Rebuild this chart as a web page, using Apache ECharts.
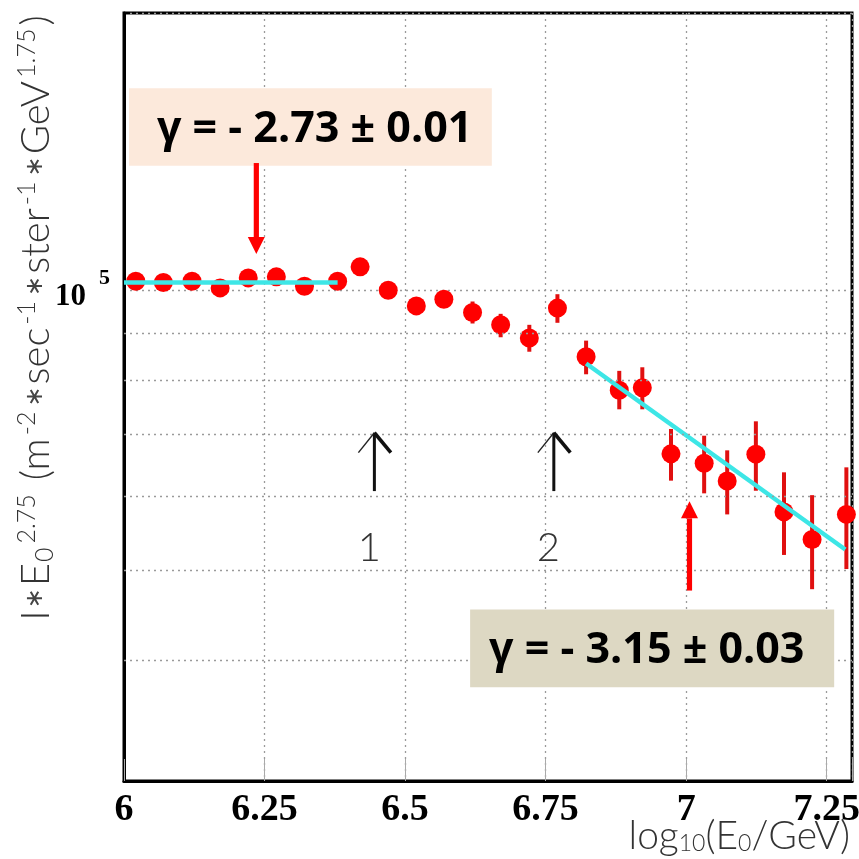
<!DOCTYPE html>
<html><head><meta charset="utf-8">
<script src="https://cdn.jsdelivr.net/npm/echarts/dist/echarts.min.js"></script>
<style>html,body{margin:0;padding:0;background:#fff}#c{width:859px;height:859px}</style>
</head><body><div id="c"></div>
<script>
// ---- data ----
const logE = [6.021, 6.070, 6.121, 6.171, 6.221, 6.271, 6.321, 6.380, 6.420, 6.470,
              6.520, 6.569, 6.620, 6.670, 6.721, 6.771, 6.822, 6.881, 6.922, 6.973,
              7.032, 7.073, 7.124, 7.174, 7.224, 7.285];
const flux = [1.0225e5, 1.0192e5, 1.0225e5, 1.0057e5, 1.0309e5, 1.0335e5, 1.0099e5, 1.0225e5, 1.0594e5, 1.0000e5,
              9.619e4, 9.780e4, 9.463e4, 9.181e4, 8.886e4, 9.566e4, 8.482e4, 7.807e4, 7.857e4, 6.671e4,
              6.518e4, 6.237e4, 6.666e4, 5.779e4, 5.398e4, 5.743e4];
const fluxHi = [1.035e5, 1.032e5, 1.035e5, 1.018e5, 1.044e5, 1.046e5, 1.023e5, 1.036e5, 1.073e5, 1.013e5,
                9.787e4, 9.976e4, 9.724e4, 9.432e4, 9.179e4, 9.901e4, 8.827e4, 8.191e4, 8.264e4, 7.094e4,
                6.977e4, 6.729e4, 7.230e4, 6.373e4, 6.023e4, 6.452e4];
const fluxLo = [1.010e5, 1.007e5, 1.010e5, 0.993e5, 1.018e5, 1.021e5, 0.997e5, 1.009e5, 1.046e5, 0.987e5,
                9.454e4, 9.588e4, 9.209e4, 8.901e4, 8.588e4, 9.225e4, 8.122e4, 7.448e4, 7.448e4, 6.243e4,
                6.050e4, 5.743e4, 6.089e4, 5.195e4, 4.773e4, 5.017e4];
const fit1X = [6.0, 6.380];
const fit1Y = [1.019e5, 1.019e5];
const fit2X = [6.822, 7.283];
const fit2Y = [8.342e4, 5.266e4];
const xTickLabels = [6, 6.25, 6.5, 6.75, 7, 7.25];
const yMinorGrid = [4e4, 5e4, 6e4, 7e4, 8e4, 9e4];
const fitText1 = 'γ = - 2.73 ± 0.01';
const fitText2 = 'γ = - 3.15 ± 0.03';
const kneeLabels = ['1', '2'];
const kneeX = [6.4454, 6.7646];

const chart = echarts.init(document.getElementById('c'), null, {renderer: 'canvas'});
const dotted = {type: [2, 4], color: '#9a9a9a', width: 1.3};

chart.setOption({
  animation: false,
  backgroundColor: '#fff',
  grid: {left: 124, right: 7, top: 13, bottom: 78, show: true, borderColor: '#000', borderWidth: 3,
         containLabel: false, outerBoundsMode: 'none'},
  xAxis: {
    type: 'value', min: 6, max: 7.295, interval: 0.25,
    axisLine: {show: true, lineStyle: {color: '#000', width: 3}},
    axisTick: {show: true, inside: true, length: 22, lineStyle: {color: '#aaa', width: 1}},
    splitLine: {show: true, lineStyle: dotted},
    axisLabel: {
      margin: 10, hideOverlap: false, color: '#000', fontFamily: 'Liberation Serif', fontWeight: 'bold', fontSize: 38,
      formatter: v => xTickLabels.some(t => Math.abs(t - v) < 1e-6) ? String(+v.toFixed(2)) : ''
    }
  },
  yAxis: {
    type: 'log', logBase: 10, min: 29700, max: 198500,
    axisLine: {show: true, lineStyle: {color: '#000', width: 3}},
    axisTick: {show: false},
    minorTick: {show: false},
    splitLine: {show: true, lineStyle: dotted},
    axisLabel: {
      margin: 14, hideOverlap: false,
      formatter: v => Math.abs(Math.log10(v) - 5) < 1e-6 ? '{a|10}{b|5}' : '',
      rich: {
        a: {fontFamily: 'Liberation Serif', fontWeight: 'bold', fontSize: 31, color: '#000', padding: [14, 0, 0, 0]},
        b: {fontFamily: 'Liberation Serif', fontWeight: 'bold', fontSize: 22, color: '#000', verticalAlign: 'top', padding: [0, 0, 0, 13]}
      }
    }
  },
  series: [
    {
      type: 'line', data: [], z: 1, silent: true,
      markLine: {silent: true, symbol: ['none', 'none'], label: {show: false}, lineStyle: dotted,
                 emphasis: {disabled: true}, data: yMinorGrid.map(v => ({yAxis: v}))}
    },
    {
      type: 'custom', z: 2, silent: true,
      data: logE.map((x, i) => [x, fluxLo[i], fluxHi[i]]),
      encode: {x: 0, y: [1, 2]},
      renderItem: (params, api) => {
        const p1 = api.coord([api.value(0), api.value(1)]);
        const p2 = api.coord([api.value(0), api.value(2)]);
        return {type: 'line', shape: {x1: p1[0], y1: p1[1], x2: p2[0], y2: p2[1]},
                style: {stroke: '#e01010', lineWidth: 4}};
      }
    },
    {
      type: 'scatter', z: 3, symbol: 'circle', symbolSize: 19,
      itemStyle: {color: '#ff0000', opacity: 1},
      emphasis: {disabled: true},
      data: logE.map((x, i) => [x, flux[i]])
    },
    {
      type: 'line', z: 4, showSymbol: false, symbol: 'none',
      lineStyle: {color: '#3de6e6', width: 4.5},
      data: fit1X.map((x, i) => [x, fit1Y[i]])
    },
    {
      type: 'line', z: 4, showSymbol: false, symbol: 'none',
      lineStyle: {color: '#3de6e6', width: 4.5},
      data: fit2X.map((x, i) => [x, fit2Y[i]])
    }
  ]
});

// ---- annotations, anchored in data coordinates ----
const P = (x, y) => chart.convertToPixel({gridIndex: 0}, [x, y]);
function box(x0, y0, x1, y1, fill) {
  const a = P(x0, y0), b = P(x1, y1);
  return {type: 'rect', z: 10, shape: {x: a[0], y: a[1], width: b[0] - a[0], height: b[1] - a[1]}, style: {fill: fill}};
}
function redArrow(x, yFrom, yTo) {
  const a = P(x, yFrom), b = P(x, yTo);
  const dir = b[1] > a[1] ? 1 : -1;
  const headLen = 17, headW = 8.5, shaftW = 2.6;
  const hb = b[1] - dir * headLen;
  return [
    {type: 'polygon', z: 11, shape: {points: [[a[0] - shaftW, a[1]], [a[0] + shaftW, a[1]], [a[0] + shaftW, hb], [a[0] - shaftW, hb]]}, style: {fill: '#ff0000'}},
    {type: 'polygon', z: 11, shape: {points: [[b[0] - headW, hb], [b[0] + headW, hb], [b[0], b[1]]]}, style: {fill: '#ff0000'}}
  ];
}
function openArrow(x) {
  const top = P(x, 7.028e4), bot = P(x, 6.084e4), barbY = P(x, 6.692e4)[1];
  return [
    {type: 'line', z: 11, shape: {x1: bot[0], y1: bot[1], x2: top[0], y2: top[1]}, style: {stroke: '#111', lineWidth: 3}},
    {type: 'line', z: 11, shape: {x1: top[0], y1: top[1], x2: top[0] - 16, y2: barbY}, style: {stroke: '#222', lineWidth: 1.4}},
    {type: 'line', z: 11, shape: {x1: top[0], y1: top[1], x2: top[0] + 16.5, y2: barbY}, style: {stroke: '#111', lineWidth: 3.6}}
  ];
}
const gammaFont = {fontFamily: 'Open Sans', fontWeight: 'bold', fontSize: 43, fill: '#000'};
const t1 = P(6.0587, 1.486e5), t2 = P(6.6495, 4.102e4);
const k1 = P(6.4365, 5.279e4), k2 = P(6.755, 5.279e4);
const xr = P(7.295, 29700);
const thin = {fontFamily: 'Lato', fontWeight: 300, fill: '#333'};
const ast = {fontFamily: 'DejaVu Sans', fontWeight: 'normal', fontSize: 24, fill: '#444', padding: [0, 2, 0, 2]};

chart.setOption({
  graphic: [
    box(6.0089, 1.648e5, 6.6543, 1.360e5, '#fce9db'),
    {type: 'text', z: 12, x: t1[0], y: t1[1], style: Object.assign({text: fitText1, align: 'left', verticalAlign: 'middle'}, gammaFont)},
    box(6.6157, 4.539e4, 7.2633, 3.745e4, '#ddd8c3'),
    {type: 'text', z: 12, x: t2[0], y: t2[1], style: Object.assign({text: fitText2, align: 'left', verticalAlign: 'middle'}, gammaFont)},
    ...redArrow(6.2354, 1.3696e5, 1.0933e5),
    ...redArrow(7.0059, 4.757e4, 5.932e4),
    ...openArrow(kneeX[0]),
    ...openArrow(kneeX[1]),
    {type: 'text', z: 12, x: k1[0], y: k1[1], style: Object.assign({text: kneeLabels[0], align: 'center', verticalAlign: 'middle', fontSize: 40}, thin)},
    {type: 'text', z: 12, x: k2[0], y: k2[1], style: Object.assign({text: kneeLabels[1], align: 'center', verticalAlign: 'middle', fontSize: 40}, thin)},
    {type: 'text', z: 12, x: xr[0] - 2, y: 836,
     style: Object.assign({text: 'log{s|10}(E{s|0}/GeV)', align: 'right', verticalAlign: 'middle', fontSize: 39,
             rich: {s: Object.assign({fontSize: 23, verticalAlign: 'bottom', padding: [15, 0, 0, 0]}, thin)}}, thin)},
    {type: 'text', z: 12, x: 36, y: 318, rotation: Math.PI / 2,
     style: Object.assign({text: 'I{a|∗}E{sub|0}{sup|2.75} (m{sup|-2}{a|∗}sec{sup|-1}{a|∗}ster{sup|-1}{a|∗}GeV{sup|1.75})',
             align: 'center', verticalAlign: 'middle', fontSize: 40,
             rich: {
               a: ast,
               sub: Object.assign({fontSize: 25, verticalAlign: 'bottom', padding: [18, 1, 0, 1]}, thin),
               sup: Object.assign({fontSize: 25, verticalAlign: 'top', padding: [0, 3, 14, 3]}, thin)
             }}, thin)}
  ]
});
</script></body></html>
